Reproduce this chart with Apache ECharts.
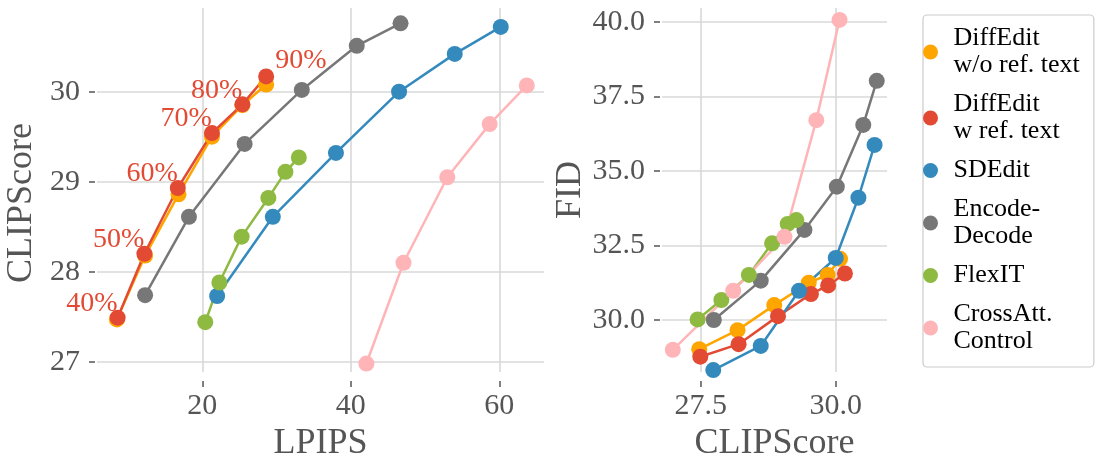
<!DOCTYPE html>
<html>
<head>
<meta charset="utf-8">
<script src="https://cdn.jsdelivr.net/npm/echarts@6/dist/echarts.min.js"></script>
<style>
    html, body { margin: 0; padding: 0; background: #fff; }
    #chart { width: 1099px; height: 464px; }
</style>
</head>
<body>
<div id="chart"></div>
<script>
// methods (legend order = draw order)
const methodNames = ['DiffEdit\nw/o ref. text', 'DiffEdit\nw ref. text', 'SDEdit', 'Encode-\nDecode', 'FlexIT', 'CrossAtt.\nControl']
const methodColors = ['#FFA500', '#E24A33', '#348ABD', '#777777', '#8EBA42', '#FFB5B8']

// DiffEdit w/o ref. text
const diffNoRefLpips = [8.5, 12.3, 16.8, 21.3, 25.4, 28.6]
const diffNoRefClip = [27.47, 28.18, 28.86, 29.50, 29.85, 30.08]
const diffNoRefFid = [29.02, 29.66, 30.50, 31.25, 31.51, 32.05]
// DiffEdit w ref. text
const diffRefLpips = [8.6, 12.2, 16.7, 21.3, 25.4, 28.6]
const diffRefClip = [27.49, 28.20, 28.93, 29.54, 29.86, 30.17]
const diffRefFid = [28.77, 29.19, 30.13, 30.87, 31.16, 31.56]
// SDEdit
const sdeditLpips = [22.0, 29.5, 38.0, 46.5, 54.0, 60.2]
const sdeditClip = [27.73, 28.61, 29.32, 30.00, 30.42, 30.72]
const sdeditFid = [28.32, 29.13, 30.98, 32.08, 34.10, 35.87]
// Encode-Decode
const encDecLpips = [12.3, 18.2, 25.7, 33.4, 40.8, 46.7]
const encDecClip = [27.74, 28.61, 29.42, 30.02, 30.51, 30.76]
const encDecFid = [30.00, 31.32, 33.02, 34.47, 36.54, 38.02]
// FlexIT
const flexitLpips = [20.4, 22.3, 25.3, 28.9, 31.2, 33.0]
const flexitClip = [27.44, 27.88, 28.39, 28.82, 29.11, 29.27]
const flexitFid = [30.02, 30.67, 31.51, 32.57, 33.22, 33.35]
// CrossAtt. Control
const crossAttLpips = [42.1, 47.1, 53.0, 58.7, 63.7]
const crossAttClip = [26.98, 28.10, 29.05, 29.64, 30.07]
const crossAttFid = [29.00, 30.98, 32.79, 36.70, 40.06]

// annotations on DiffEdit w ref. text (left plot)
const pctLabels = ['40%', '50%', '60%', '70%', '80%', '90%']

// ticks
const lpipsTicks = [20, 40, 60]
const clipTicksLeft = [27, 28, 29, 30]
const clipTicksRight = [27.5, 30.0]
const fidTicks = [30.0, 32.5, 35.0, 37.5, 40.0]

const FONT = "'Liberation Serif', 'DejaVu Serif', serif"

const lpipsList = [diffNoRefLpips, diffRefLpips, sdeditLpips, encDecLpips, flexitLpips, crossAttLpips]
const clipList = [diffNoRefClip, diffRefClip, sdeditClip, encDecClip, flexitClip, crossAttClip]
const fidList = [diffNoRefFid, diffRefFid, sdeditFid, encDecFid, flexitFid, crossAttFid]

let myChart = echarts.init(document.getElementById('chart'))

let axisBase = (ticks, fmt, margin) => {
    return {
        type: 'value',
        axisLine: { show: false },
        axisTick: {
            show: true,
            length: 6,
            customValues: ticks,
            lineStyle: { color: '#555', width: 1.5 }
        },
        axisLabel: {
            customValues: ticks,
            formatter: fmt,
            margin: margin,
            color: '#555',
            fontSize: 30,
            fontFamily: FONT
        },
        splitLine: {
            show: true,
            lineStyle: { color: '#d9d9d9', width: 1.6 }
        },
        nameLocation: 'middle',
        nameTextStyle: { color: '#555', fontSize: 36, fontFamily: FONT }
    }
}
let intFmt = (v) => String(Math.round(v))
let oneDec = (v) => v.toFixed(1)

let series = []
methodNames.forEach((name, k) => {
    let color = methodColors[k]
    let leftData = lpipsList[k].map((v, i) => {
        let item = { value: [v, clipList[k][i]] }
        if (k === 1) {
            let last = i === pctLabels.length - 1
            item.label = {
                show: true,
                formatter: pctLabels[i],
                position: ['50%', '50%'],
                offset: last ? [9, -2] : [0, 0],
                align: last ? 'left' : 'right',
                verticalAlign: 'bottom',
                color: '#E24A33',
                fontSize: 28,
                fontFamily: FONT
            }
        }
        return item
    })
    let common = {
        name: name,
        type: 'line',
        symbol: 'circle',
        symbolSize: 16,
        itemStyle: { color: color },
        lineStyle: { color: color, width: 2.5 },
        emphasis: { disabled: true }
    }
    series.push(Object.assign({}, common, { xAxisIndex: 0, yAxisIndex: 0, data: leftData }))
    series.push(Object.assign({}, common, {
        xAxisIndex: 1, yAxisIndex: 1,
        data: clipList[k].map((v, i) => [v, fidList[k][i]])
    }))
})

let option = {
    animation: false,
    backgroundColor: '#fff',
    textStyle: { fontFamily: FONT },
    grid: [
        { left: 97, top: 8, width: 447, height: 364, outerBoundsMode: 'none' },
        { left: 662, top: 8, width: 225, height: 364, outerBoundsMode: 'none' }
    ],
    xAxis: [
        Object.assign(axisBase(lpipsTicks, intFmt, 10), {
            gridIndex: 0, min: 5.82, max: 66.02, offset: 9, name: 'LPIPS', nameGap: 45
        }),
        Object.assign(axisBase(clipTicksRight, oneDec, 10), {
            gridIndex: 1, min: 26.78, max: 30.95, offset: 9, name: 'CLIPScore', nameGap: 45
        })
    ],
    yAxis: [
        Object.assign(axisBase(clipTicksLeft, intFmt, 15), {
            gridIndex: 0, min: 26.886, max: 30.93, offset: 2, name: 'CLIPScore', nameGap: 55
        }),
        Object.assign(axisBase(fidTicks, oneDec, 15), {
            gridIndex: 1, min: 28.257, max: 40.46, offset: 2, name: 'FID', nameGap: 71
        })
    ],
    legend: {
        orient: 'vertical',
        left: 923,
        top: 15,
        data: methodNames,
        icon: 'circle',
        itemWidth: 22,
        itemHeight: 15,
        itemGap: 12,
        padding: [10, 14, 12, 0],
        borderColor: '#cccccc',
        borderWidth: 1.2,
        borderRadius: 4,
        selectedMode: false,
        textStyle: { color: '#000', fontSize: 26, lineHeight: 27, fontFamily: FONT, padding: [0, 0, 0, 7] }
    },
    series: series
}
// left y title sits a little below the plot centre in the original
option.yAxis[0].nameTextStyle = Object.assign({}, option.yAxis[0].nameTextStyle, { padding: [0, 26, 0, 0] })
myChart.setOption(option)
window.addEventListener('resize', function () {
    myChart.resize()
})
</script>
</body>
</html>
